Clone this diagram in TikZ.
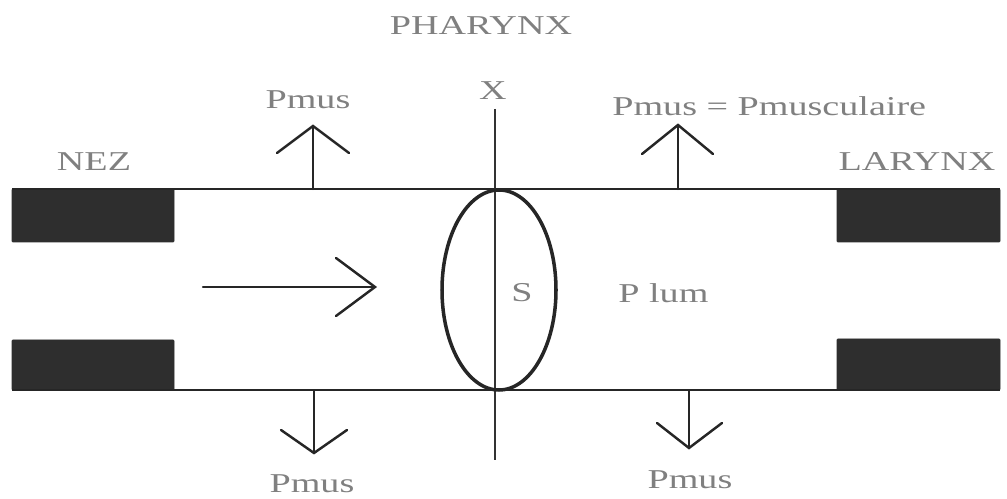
\documentclass[tikz,border=0pt]{standalone}
\usepackage{fontspec}
\setmainfont{Liberation Serif}[FakeStretch=1.4]
\begin{document}
\begin{tikzpicture}[x=0.02cm,y=-0.02cm,
  wall/.style={draw=black!85,line width=1.5pt},
  block/.style={fill=black!82,draw=black!82,rounded corners=0.5pt},
  axis/.style={draw=black!80,line width=1.1pt},
  arr/.style={draw=black!85,line width=1.4pt,line cap=round,line join=miter},
  lbl/.style={text=black!50,font=\fontsize{15.5}{18}\selectfont,inner sep=0pt}]
\useasboundingbox (0,0) rectangle (1007,499);
% blocks
\path[block] (12,189) rectangle (174,242);
\path[block] (12,340) rectangle (174,390);
\path[block] (837,189) rectangle (1000,242);
\path[block] (837,339) rectangle (1000,390);
% walls
\coordinate (tl) at (12,189); \coordinate (tr) at (1000,189);
\coordinate (bl) at (12,390); \coordinate (br) at (1000,390);
\draw[wall] (tl) -- (tr);
\draw[wall] (bl) -- (br);
% axis
\coordinate (xt) at (495,109); \coordinate (xb) at (495,460);
\draw[axis] (xt) -- (xb);
% ellipse
\coordinate (ec) at (499,290);
\draw[draw=black!85,line width=2pt] (ec) ellipse [x radius=57,y radius=100];
% flow arrow
\coordinate (f0) at (203,287); \coordinate (f1) at (375,287);
\draw[arr] (f0) -- (f1);
\draw[arr] (336,258) -- (f1) -- (336,316);
% up arrows
\coordinate (ul0) at (313,189); \coordinate (ul1) at (313,126);
\draw[arr] (ul0) -- (ul1);
\draw[arr] (277,153) -- (ul1) -- (349,153);
\coordinate (ur0) at (678,189); \coordinate (ur1) at (678,125);
\draw[arr] (ur0) -- (ur1);
\draw[arr] (642,154) -- (ur1) -- (713,154);
% down arrows
\coordinate (dl0) at (314,391); \coordinate (dl1) at (314,453);
\draw[arr] (dl0) -- (dl1);
\draw[arr] (281,430) -- (dl1) -- (347,430);
\coordinate (dr0) at (689,391); \coordinate (dr1) at (689,448);
\draw[arr] (dr0) -- (dr1);
\draw[arr] (657,423) -- (dr1) -- (722,423);
% labels
\node[lbl] (ph) at (481,26) {PHARYNX};
\node[lbl] (xl) at (493,91) {X};
\node[lbl] (pm1) at (308,100) {Pmus};
\node[lbl,anchor=west] (pm2) at (612,106) {Pmus = Pmusculaire};
\node[lbl] (nez) at (94,162) {NEZ};
\node[lbl] (lar) at (917,162) {LARYNX};
\node[lbl] (s) at (522,293) {S};
\node[lbl,anchor=west] (plum) at (618,293) {P lum};
\node[lbl] (pm3) at (312,484) {Pmus};
\node[lbl] (pm4) at (690,480) {Pmus};
\end{tikzpicture}
\end{document}
